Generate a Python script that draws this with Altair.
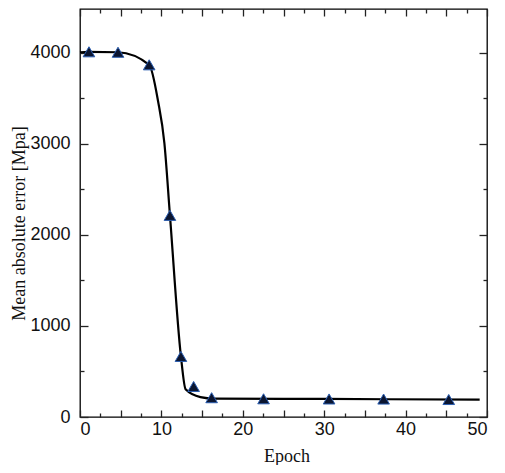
import altair as alt
import pandas as pd

# Triangle markers
epoch_pts = [1.1, 4.67, 8.5, 11.05, 12.4, 13.96, 16.17, 22.55, 30.6, 37.3, 45.3]
mae_pts = [4010, 4005, 3867, 2214, 665, 335, 212, 200, 198, 197, 192]

# Smooth curve
line_epoch = [0, 1.1, 4.67, 8.5, 9.58, 10.37, 11.05, 12.4, 12.97, 14.8, 16.5, 30.0, 49.1]
line_mae = [4005, 4010, 4005, 3867, 3473, 3005, 2214, 665, 305, 219, 202, 198, 190]

x_label_values = [0, 10, 20, 30, 40, 50]
x_tick_values = [0, 2.5, 5, 7.5, 10, 12.5, 15, 17.5, 20, 22.5, 25, 27.5, 30,
                 32.5, 35, 37.5, 40, 42.5, 45, 47.5, 50]
y_label_values = [0, 1000, 2000, 3000, 4000]
y_tick_values = [0, 500, 1000, 1500, 2000, 2500, 3000, 3500, 4000]

W, H = 407, 408

pts = pd.DataFrame({"Epoch": epoch_pts, "MAE": mae_pts})
ln = pd.DataFrame({"Epoch": line_epoch, "MAE": line_mae})

xs = alt.Scale(domain=[0, 50], nice=False, zero=False)
ys = alt.Scale(domain=[0, 4480], nice=False, zero=False)

x_major = {"condition": {"test": "datum.value % 5 === 0", "value": 7}, "value": 4}
y_major = {"condition": {"test": "datum.value % 1000 === 0", "value": 8}, "value": 4}

line = alt.Chart(ln).mark_line(
    interpolate="monotone", color="black", strokeWidth=2.2
).encode(
    x=alt.X("Epoch:Q", scale=xs, axis=alt.Axis(
        orient="bottom", values=x_label_values, ticks=False, domain=False,
        grid=False, title="Epoch", labelPadding=3, titleY=44, format="d",
        titleBaseline="alphabetic", titleX=W / 2 + 3)),
    y=alt.Y("MAE:Q", scale=ys, axis=alt.Axis(
        orient="left", values=y_label_values, ticks=False, domain=False,
        grid=False, title="Mean absolute error [Mpa]", labelPadding=10,
        format="d", titleX=-52, titleY=214)),
)

tri = alt.Chart(pts).mark_point(
    shape="triangle-up", size=135, filled=True, fill="#0b1530",
    stroke="#2a5db0", strokeWidth=1, opacity=1
).encode(
    x=alt.X("Epoch:Q", scale=xs, axis=alt.Axis(
        orient="top", offset=-H, values=x_tick_values, labels=False,
        domain=False, grid=False, title=None, tickSize=x_major)),
    y=alt.Y("MAE:Q", scale=ys, axis=alt.Axis(
        orient="right", offset=-W, values=y_tick_values, labels=False,
        domain=False, grid=False, title=None, tickSize=y_major)),
)

ghost = alt.Chart(pts).mark_point(opacity=0).encode(
    x=alt.X("Epoch:Q", scale=xs, axis=alt.Axis(
        orient="bottom", offset=-H, values=x_tick_values, labels=False,
        domain=False, grid=False, title=None, tickSize=x_major)),
    y=alt.Y("MAE:Q", scale=ys, axis=alt.Axis(
        orient="left", offset=-W, values=y_tick_values, labels=False,
        domain=False, grid=False, title=None, tickSize=y_major)),
)

chart = alt.layer(ghost, line, tri).resolve_axis(
    x="independent", y="independent"
).properties(
    width=W, height=H,
    autosize=alt.AutoSizeParams(type="none"),
    padding={"left": 72, "top": 1, "right": 10, "bottom": 48},
).configure_view(
    stroke="black", strokeWidth=1.3
).configure_axis(
    labelFont="Liberation Sans", labelFontSize=18, labelColor="#111",
    titleFont="Liberation Serif", titleFontSize=18, titleFontWeight="normal",
    titleColor="#111", tickColor="#222", tickWidth=1.3,
)

chart.save("out.html", embed_options={"renderer": "svg", "actions": False})
